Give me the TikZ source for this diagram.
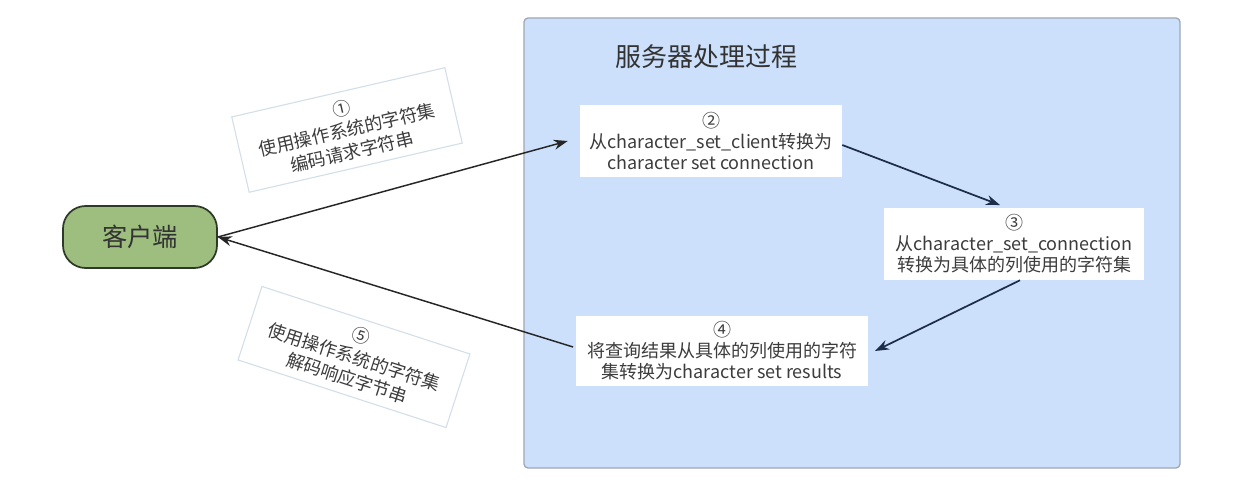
\documentclass[tikz,border=0pt]{standalone}
\usepackage{fontspec}
\setmainfont{Noto Sans CJK SC}
\usetikzlibrary{arrows.meta}
\definecolor{srvblue}{HTML}{CCE0FB}
\definecolor{srvborder}{HTML}{A0A8B4}
\definecolor{txtgray}{HTML}{3C3C3C}
\definecolor{clientgreen}{HTML}{9DBE7E}
\definecolor{clientborder}{HTML}{2E3A28}
\definecolor{navy}{HTML}{1E2E4A}
\definecolor{lblborder}{HTML}{D2DEE8}
\begin{document}
\begin{tikzpicture}[x=0.75pt,y=-0.75pt,
  every node/.style={font=\fontsize{13.5}{15.8}\selectfont, text=txtgray, align=center, inner sep=0pt},
  stepbox/.style={fill=white, minimum height=54pt},
  lblbox/.style={draw=lblborder, line width=0.8pt, fill=white, minimum width=164pt, minimum height=58pt,
                 font=\fontsize{13.5}{16.6}\selectfont},
  arrout/.style={draw=black!85, line width=1.1pt, -{Stealth[length=10.5pt,width=7.5pt]}},
  arrin/.style={draw=navy, line width=1.3pt, -{Stealth[length=10.5pt,width=7.5pt]}}
]
\useasboundingbox (0,0) rectangle (1239,481);
\fill[white] (0,0) rectangle (1239,481);

\node[draw=srvborder, line width=1pt, fill=srvblue, rounded corners=3pt,
      minimum width=492pt, minimum height=337.5pt] (server) at (852,243) {};
\node[font=\fontsize{19.5}{22}\selectfont, text=black!80] (title) at (706,57) {服务器处理过程};

\node[stepbox, minimum width=196.5pt] (b2) at (711,141) {②\\从character\_set\_client转换为\\character set connection};
\node[stepbox, minimum width=195pt] (b3) at (1014,244) {③\\从character\_set\_connection\\转换为具体的列使用的字符集};
\node[stepbox, minimum width=219pt, minimum height=52.5pt] (b4) at (722,351) {④\\将查询结果从具体的列使用的字符\\集转换为character set results};

\node[draw=clientborder, line width=1.3pt, fill=clientgreen, rounded corners=17pt,
      minimum width=115.5pt, minimum height=46.5pt,
      font=\fontsize{19}{22}\selectfont, text=black!80] (client) at (140,237) {客户端};

\node[lblbox, rotate=13] (l1) at (347,130) {①\\使用操作系统的字符集\\编码请求字符串};
\node[lblbox, rotate=-18] (l5) at (354,357) {⑤\\使用操作系统的字符集\\解码响应字节串};

\draw[arrout] (client.east) -- ([xshift=-9pt]b2.west);
\draw[arrout] ([xshift=-2pt,yshift=3pt]b4.west) -- (client.east);
\draw[arrin] ([yshift=-3pt]b2.east) -- ([xshift=-10.5pt,yshift=2pt]b3.north);
\draw[arrin] ([xshift=4.5pt]b3.south) -- ([xshift=5pt]b4.east);
\end{tikzpicture}
\end{document}
